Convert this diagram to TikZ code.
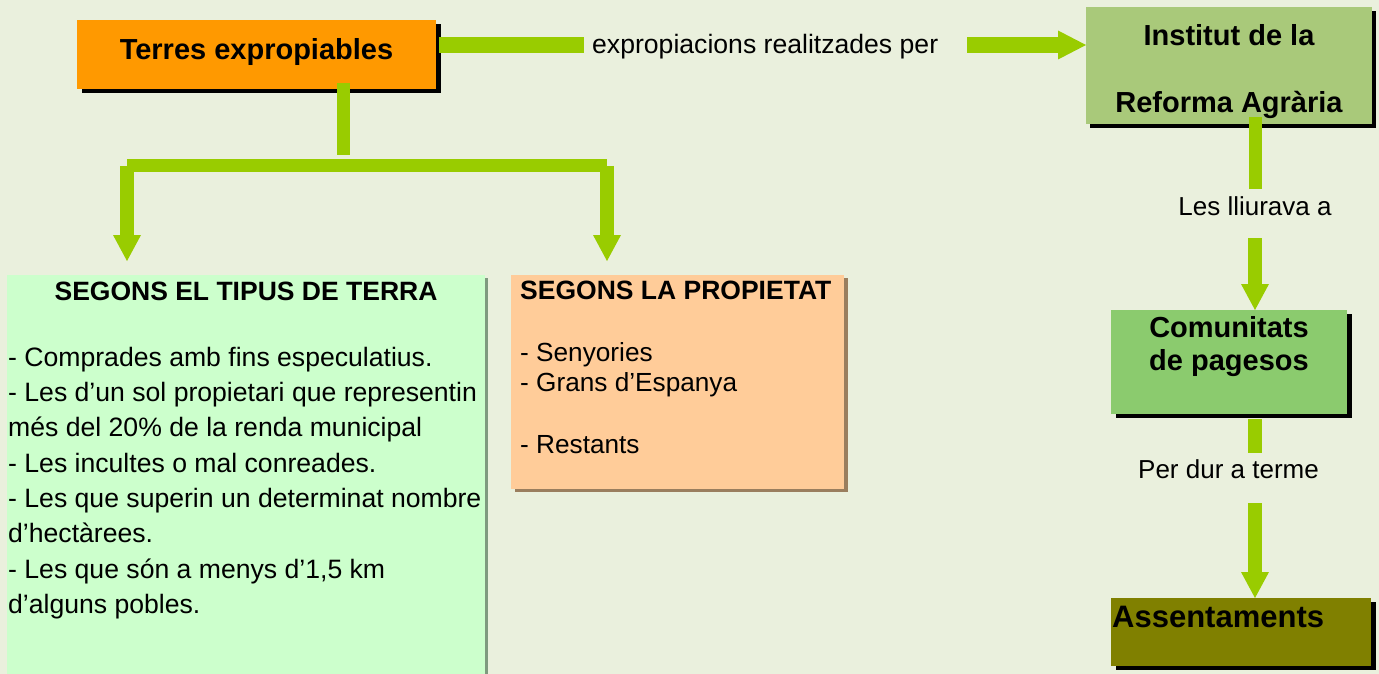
\documentclass[tikz,border=0pt]{standalone}
\usepackage{fontspec}
\setmainfont{Liberation Sans}
\usetikzlibrary{arrows.meta,shadows,calc}
\definecolor{bg}{HTML}{EAF0DD}
\definecolor{arrowgreen}{HTML}{99CC00}
\definecolor{terresc}{HTML}{FF9900}
\definecolor{institutc}{HTML}{A9C97A}
\definecolor{comunc}{HTML}{8BCB6E}
\definecolor{assentc}{HTML}{808000}
\definecolor{tipusc}{HTML}{CCFFCC}
\definecolor{propc}{HTML}{FFCC99}
\definecolor{tipusshadow}{HTML}{7F9A7F}
\definecolor{propshadow}{HTML}{9A7E5E}
\tikzset{
  box/.style={rectangle, inner sep=0pt, draw=none, anchor=north west},
  blackshadow/.style={general shadow={fill=black, shadow xshift=5pt, shadow yshift=-4pt}},
  shaft/.style={draw=arrowgreen, line width=14pt},
  blockarrow/.style={shaft, -{Triangle[width=28pt,length=26pt,line width=0pt]}},
  bigarrow/.style={shaft, line width=16pt, -{Triangle[width=29pt,length=28pt,line width=0pt]}},
  txt/.style={inner sep=0pt, font=\fontsize{26}{30}\selectfont},
  boldtitle/.style={inner sep=0pt, font=\fontsize{29}{34}\selectfont\bfseries},
  segtitle/.style={inner sep=0pt, font=\fontsize{26.5}{30}\selectfont\bfseries}
}
\begin{document}
\begin{tikzpicture}[x=1pt,y=-1pt]
\useasboundingbox (0,0) rectangle (1379,674);
\clip (0,0) rectangle (1379,674);
\fill[bg] (0,0) rectangle (1379,674);

% boxes
\node[box, fill=terresc, blackshadow, minimum width=359pt, minimum height=69pt] (terres) at (77,20) {};
\node[box, fill=institutc, general shadow={fill=black,shadow xshift=4pt,shadow yshift=-4pt}, minimum width=286pt, minimum height=117pt] (institut) at (1086,7) {};
\node[box, fill=comunc, blackshadow, minimum width=236pt, minimum height=104pt] (comunitats) at (1111,310) {};
\node[box, fill=assentc, blackshadow, minimum width=260pt, minimum height=68pt] (assent) at (1111,598) {};
\node[box, fill=tipusc, general shadow={fill=tipusshadow, shadow xshift=3pt, shadow yshift=-3pt}, minimum width=478pt, minimum height=430pt] (tipus) at (7,275) {};
\node[box, fill=propc, general shadow={fill=propshadow, shadow xshift=4pt, shadow yshift=-3pt}, minimum width=333pt, minimum height=214pt] (prop) at (511,275) {};

% texts
\node[boldtitle, anchor=base] (terrest) at (256.5,60) {Terres expropiables};
\node[inner sep=0pt, anchor=north, align=center, font=\fontsize{29}{67}\selectfont\bfseries] (institutt) at (1229,23) {\rule{0pt}{22pt}Institut de la\\Reforma Agrària};
\node[inner sep=0pt, anchor=north, align=center, font=\fontsize{29}{33}\selectfont\bfseries] (comunt) at (1229,315) {\rule{0pt}{22pt}Comunitats\\de pagesos};
\node[inner sep=0pt, anchor=base west, font=\fontsize{31}{36}\selectfont\bfseries] (assentt) at (1112,627) {Assentaments};
\node[segtitle, anchor=base] (tipust) at (246,300) {SEGONS EL TIPUS DE TERRA};
\node[inner sep=0pt, anchor=north west, align=left, font=\fontsize{26.6}{35.3}\selectfont] (tipusb) at (8,346) {\rule{0pt}{20pt}- Comprades amb fins especulatius.\\- Les d’un sol propietari que representin\\més del 20\% de la renda municipal\\- Les incultes o mal conreades.\\- Les que superin un determinat nombre\\d’hectàrees.\\- Les que són a menys d’1,5 km\\d’alguns pobles.};
\node[segtitle, anchor=base west] (propt) at (520,299) {SEGONS LA PROPIETAT};
\node[inner sep=0pt, anchor=north west, align=left, font=\fontsize{26.2}{30.7}\selectfont] (propb) at (520,341) {\rule{0pt}{20pt}- Senyories\\- Grans d’Espanya\\[30.7pt]- Restants};

% connector labels
\node[txt, anchor=base west, font=\fontsize{26.6}{30}\selectfont] (expr) at (592,54) {expropiacions realitzades per};
\node[txt, anchor=base] (lliura) at (1255,215) {Les lliurava a};
\node[txt, anchor=base] (durt) at (1228.5,478) {Per dur a terme};

% connectors
\coordinate (row1) at (0,45);
\draw[shaft, line width=16pt] ($(terres.east |- row1)+(3,0)$) -- ($(expr.west |- row1)+(-8,0)$);
\draw[bigarrow] ($(expr.east |- row1)+(29,0)$) -- (institut.west |- row1);

\coordinate (stubx) at (343,0);
\coordinate (jl) at (127,166);
\coordinate (jr) at (607,166);
\draw[shaft, line width=13pt] ($(terres.south -| stubx)+(0,-6)$) -- ($(jl -| stubx)+(0,-11)$);
\draw[shaft, line width=13pt] (jl) -- (jr);
\draw[blockarrow] (jl) -- ($(tipus.north -| jl)+(0,-14)$);
\draw[blockarrow] (jr) -- ($(prop.north -| jr)+(0,-14)$);

\coordinate (rx) at (1255,0);
\draw[shaft, line width=13pt] ($(institut.south -| rx)+(0,-7)$) -- ($(lliura.north -| rx)+(0,-7)$);
\draw[blockarrow] ($(lliura.south -| rx)+(0,23)$) -- (comunitats.north -| rx);
\draw[shaft] ($(comunitats.south -| rx)+(0,5)$) -- ($(durt.north -| rx)+(0,-6)$);
\draw[blockarrow] ($(durt.south -| rx)+(0,25)$) -- (assent.north -| rx);
\end{tikzpicture}
\end{document}
